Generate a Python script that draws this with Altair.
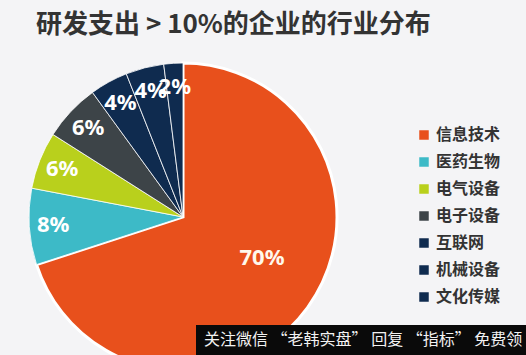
import altair as alt
import pandas as pd

categories = ["信息技术", "医药生物", "电气设备", "电子设备", "互联网", "机械设备", "文化传媒"]
shares = [70, 8, 6, 6, 4, 4, 2]
labels = ["70%", "8%", "6%", "6%", "4%", "4%", "2%"]
colors = ["#E8501C", "#3DBAC7", "#B9D01C", "#3D4448", "#0F2B4F", "#0F2B4F", "#0F2B4F"]

title_text = "研发支出 > 10%的企业的行业分布"
watermark_text = "关注微信 “老韩实盘” 回复 “指标” 免费领"

df = pd.DataFrame({
    "category": categories,
    "share": shares,
    "label": labels,
    "order": list(range(len(categories))),
})

CX, CY, R = 183, 217, 154
is_big = alt.datum.category == "信息技术"

base = alt.Chart(df).encode(
    theta=alt.Theta("share:Q", stack=True),
    order=alt.Order("order:Q"),
)

color_scale = alt.Scale(domain=categories, range=colors)

arcs = base.mark_arc(radius=R, stroke="white").encode(
    color=alt.Color(
        "category:N",
        scale=color_scale,
        sort=categories,
        legend=alt.Legend(
            title=None,
            orient="none",
            legendX=416,
            legendY=127,
            symbolType="square",
            symbolSize=90,
            symbolStrokeWidth=0,
            labelFontSize=16,
            labelFontWeight="bold",
            labelColor="#333333",
            labelFont="Noto Sans CJK SC",
            labelOffset=4,
            rowPadding=11,
            padding=0,
        ),
    ),
    strokeWidth=alt.condition(is_big, alt.value(3), alt.value(0.8)),
    x=alt.value(CX),
    y=alt.value(CY),
)

big_label = base.mark_text(
    radius=89, dx=7, dy=-11, fontSize=22, fontWeight="bold",
    font="Noto Sans", color="#FFF8EC",
).encode(
    text=alt.condition(is_big, alt.Text("label:N"), alt.value("")),
    x=alt.value(CX), y=alt.value(CY),
)

small_labels = base.mark_text(
    radius=130, fontSize=22, fontWeight="bold", font="Noto Sans", color="white",
).encode(
    text=alt.condition(is_big, alt.value(""), alt.Text("label:N")),
    x=alt.value(CX), y=alt.value(CY),
)

title_df = pd.DataFrame({"t": [title_text]})
title = alt.Chart(title_df).mark_text(
    align="left", baseline="alphabetic", fontSize=26, fontWeight="bold",
    font="Noto Sans CJK SC", color="#333333",
).encode(text="t:N", x=alt.value(36), y=alt.value(33))

wm_df = pd.DataFrame({"t": [watermark_text]})
wm_box = alt.Chart(wm_df).mark_rect(color="#0A0A0A").encode(
    x=alt.value(196), x2=alt.value(526), y=alt.value(325), y2=alt.value(355)
)
wm_text = alt.Chart(wm_df).mark_text(
    align="left", baseline="middle", fontSize=16, font="Noto Sans CJK SC",
    color="#F2F2F2",
).encode(text="t:N", x=alt.value(204), y=alt.value(340))

chart = alt.layer(arcs, small_labels, big_label, title, wm_box, wm_text).properties(
    width=526, height=355, padding=0,
    autosize=alt.AutoSizeParams(type="none"),
    background="#F4F4F6",
).configure_view(stroke=None)

chart.save("out.html", embed_options={"renderer": "svg", "actions": False})
